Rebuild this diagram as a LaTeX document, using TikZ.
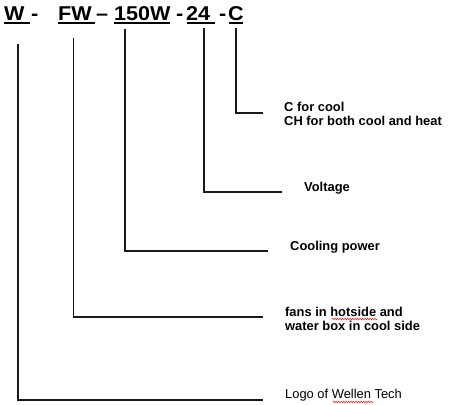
\documentclass[tikz,border=0pt]{standalone}
\usepackage{fontspec}
\setmainfont{Liberation Sans}
\newfontfamily\codefont[FakeStretch=1.08]{Liberation Sans}
\usetikzlibrary{decorations.pathmorphing}
\begin{document}
\begin{tikzpicture}[x=1pt,y=-1pt,
  code/.style={inner sep=0pt,anchor=base west,font=\codefont\fontsize{20}{24}\selectfont\bfseries},
  lbl/.style={inner sep=0pt,anchor=base west,align=left,font=\fontsize{12.9}{14}\selectfont\bfseries},
  lblplain/.style={inner sep=0pt,anchor=base west,font=\fontsize{12.9}{14}\selectfont},
  uline/.style={line width=1.6pt},
  lead/.style={line width=1.3pt,black!90},
  spell/.style={red,line width=0.5pt,decorate,decoration={zigzag,segment length=2.5pt,amplitude=0.8pt}}]
\useasboundingbox (0,0) rectangle (456,405);
% codes
\node[code] (w)   at (4,20)   {W};
\node[code] (d1)  at (31,20)  {-};
\node[code] (fw)  at (58,20)  {FW};
\node[code] (d2)  at (96,20)  {–};
\node[code] (p)   at (114,20) {150W};
\node[code] (d3)  at (176,20) {-};
\node[code] (v)   at (186,20) {24};
\node[code] (d4)  at (219,20) {-};
\node[code] (c)   at (228,20) {C};
% underlines
\draw[uline] (4,23) -- (30,23);
\draw[uline] (58,23) -- (95,23);
\draw[uline] (114,23) -- (170,23);
\draw[uline] (187,23) -- (215,23);
\draw[uline] (229,23) -- (243,23);
% labels
\node[lbl] (lc) at (284,125) {C for cool\\CH for both cool and heat};
\node[lbl] (lv) at (304,191) {Voltage};
\node[lbl] (lp) at (290,250) {Cooling power};
\node[lbl] (lf) at (285,330) {fans in hotside and\\water box in cool side};
\node[lblplain] (ll) at (285,398) {Logo of Wellen Tech};
% leader coordinates
\coordinate (cTop) at (236,28);  \coordinate (cEnd) at (263,113);
\coordinate (vTop) at (204,28);  \coordinate (vEnd) at (282,192);
\coordinate (pTop) at (125,29);  \coordinate (pEnd) at (268,251);
\coordinate (fTop) at (73.5,38); \coordinate (fEnd) at (263,317);
\coordinate (wTop) at (18,44);   \coordinate (wEnd) at (263,400);
\draw[lead] (cTop) |- (cEnd);
\draw[lead] (vTop) |- (vEnd);
\draw[lead] (pTop) |- (pEnd);
\draw[lead] (fTop) |- (fEnd);
\draw[lead] (wTop) |- (wEnd);
% spell-check marks
\draw[spell] (332,319) -- (377,319);
\draw[spell] (333,402) -- (373,402);
\end{tikzpicture}
\end{document}
